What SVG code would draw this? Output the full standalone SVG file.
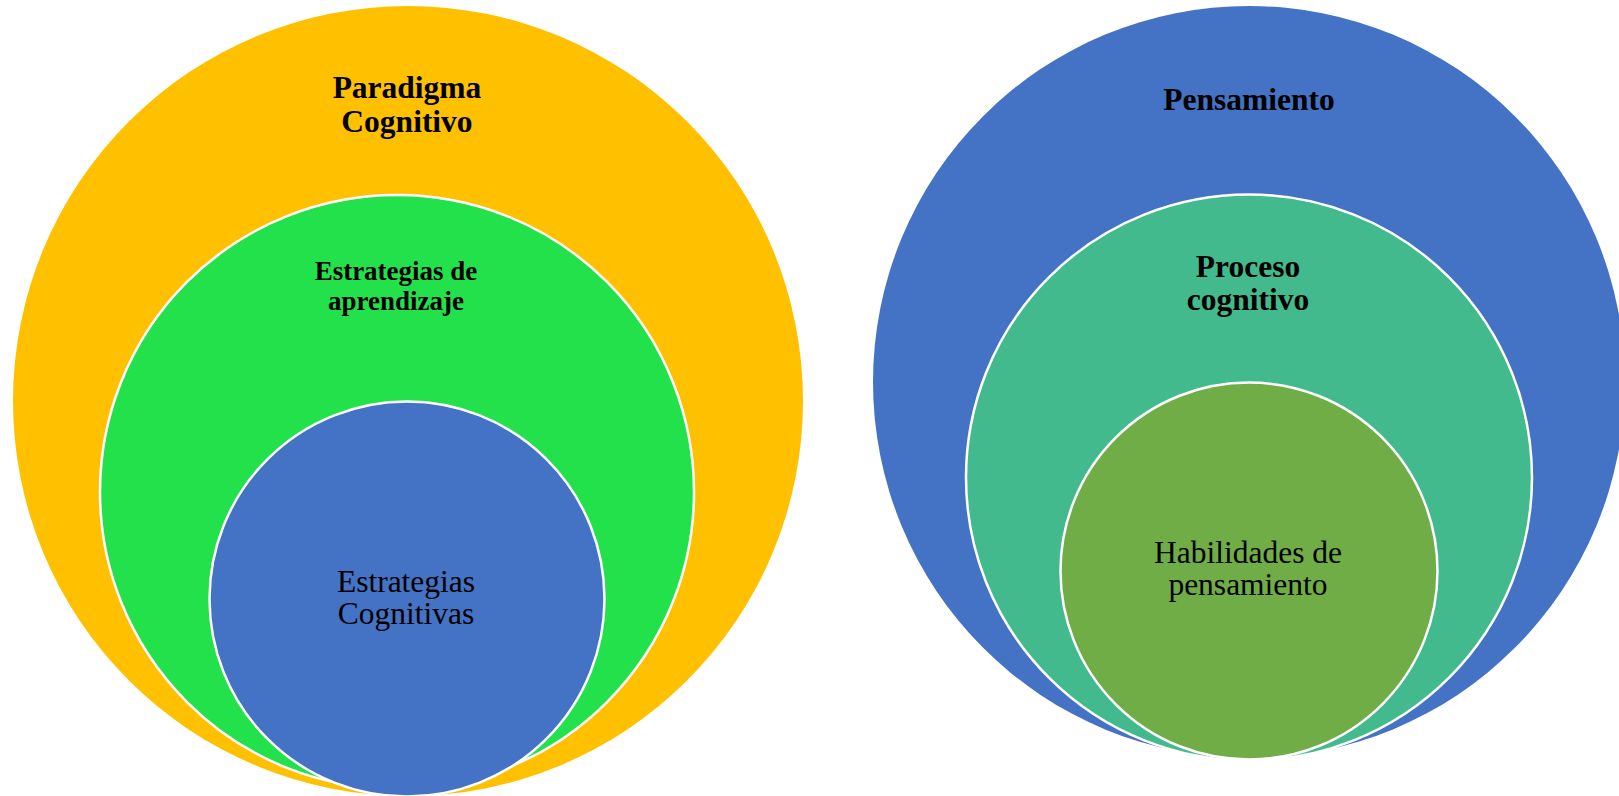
<svg xmlns="http://www.w3.org/2000/svg" width="1619" height="796" viewBox="0 0 1619 796">
<style>
.t{font-family:"Liberation Serif","Times New Roman",serif;fill:#000;text-anchor:middle}
.b{font-weight:bold}
.in{stroke:#fff;stroke-width:2.5}
</style>
<rect width="1619" height="796" fill="#fff"/>
<g id="paradigma">
<circle cx="408" cy="401" r="395" fill="#FFC000"/>
<text class="t b" x="407" y="98" font-size="31.5">Paradigma</text>
<text class="t b" x="407" y="132" font-size="31.5">Cognitivo</text>
</g>
<g id="estrategias-aprendizaje">
<circle class="in" cx="397" cy="492" r="297" fill="#23E14A"/>
<text class="t b" x="396" y="280" font-size="27">Estrategias de</text>
<text class="t b" x="396" y="310" font-size="27">aprendizaje</text>
</g>
<g id="estrategias-cognitivas">
<circle class="in" cx="407" cy="599" r="197.5" fill="#4472C4"/>
<text class="t" x="406" y="592" font-size="31.5">Estrategias</text>
<text class="t" x="406" y="624" font-size="31.5">Cognitivas</text>
</g>
<g id="pensamiento">
<circle cx="1249" cy="382" r="376" fill="#4472C4"/>
<text class="t b" x="1249" y="110" font-size="31.5">Pensamiento</text>
</g>
<g id="proceso-cognitivo">
<circle class="in" cx="1249" cy="477.5" r="283" fill="#43BA8D"/>
<text class="t b" x="1248" y="277" font-size="31.5">Proceso</text>
<text class="t b" x="1248" y="310" font-size="31.5">cognitivo</text>
</g>
<g id="habilidades">
<circle class="in" cx="1249" cy="571" r="188.5" fill="#70AD47"/>
<text class="t" x="1248" y="563" font-size="31.5">Habilidades de</text>
<text class="t" x="1248" y="595" font-size="31.5">pensamiento</text>
</g>
<g id="connectors"/>
</svg>
